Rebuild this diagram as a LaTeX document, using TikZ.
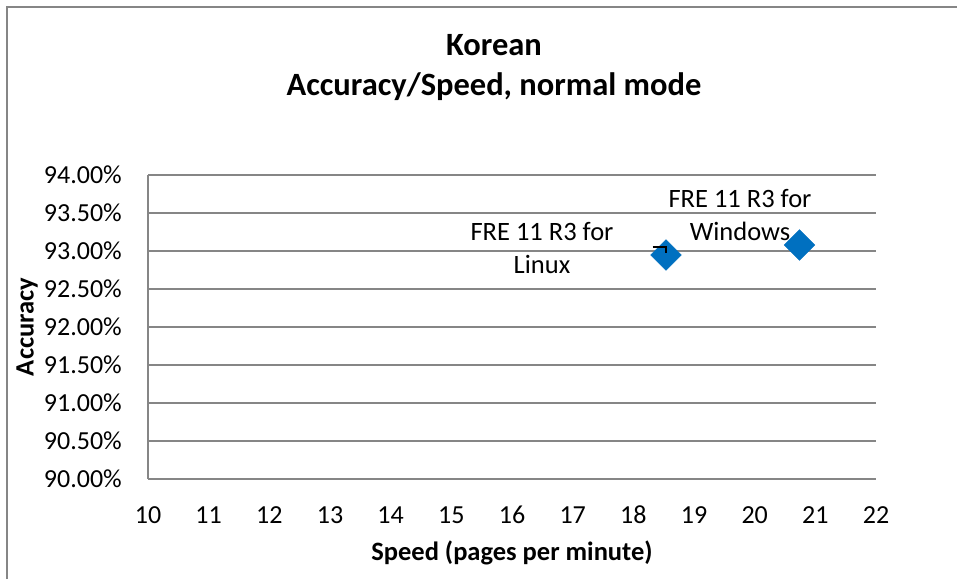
\documentclass[tikz,border=0pt]{standalone}
\usepackage{fontspec}
\setmainfont{Carlito}
\usetikzlibrary{shapes.geometric}
\definecolor{gridgray}{HTML}{868686}
\definecolor{markblue}{HTML}{0070C0}
\tikzset{
  gridline/.style={draw=gridgray, line width=1.5pt},
  frameline/.style={draw=gridgray, line width=2pt},
  ticklbl/.style={font=\fontsize{26}{30}\selectfont, inner sep=0pt},
  datalbl/.style={font=\fontsize{26.5}{33}\selectfont, align=center, inner sep=0pt},
  marker/.style={diamond, fill=markblue, draw=markblue, minimum width=31pt, minimum height=31pt, inner sep=0pt},
  axtitle/.style={font=\bfseries\fontsize{26.5}{30}\selectfont, inner sep=0pt},
}
\begin{document}
\begin{tikzpicture}[x=1pt,y=-1pt]
\useasboundingbox (0,0) rectangle (957,579);
\fill[white] (0,0) rectangle (957,579);
% outer frame (left and top visible)
\draw[frameline] (6.5,579) -- (6.5,6.5) -- (957,6.5);
% title
\node[font=\bfseries\fontsize{32.5}{40}\selectfont, align=center, inner sep=0pt] (title) at (494,68) {Korean\\Accuracy/Speed, normal mode};
% gridlines
\foreach \i in {0,...,8} {
  \draw[gridline] (148,175+38*\i) -- (876,175+38*\i);
}
\draw[gridline] (148,175) -- (148,479);
% y tick labels
\foreach \i/\t in {0/94.00\%,1/93.50\%,2/93.00\%,3/92.50\%,4/92.00\%,5/91.50\%,6/91.00\%,7/90.50\%,8/90.00\%} {
  \node[ticklbl, anchor=east] (yl\i) at (122,175+38*\i) {\t};
}
% x tick labels
\foreach \v [count=\i from 0] in {10,...,22} {
  \node[ticklbl] (xl\i) at (148+60.667*\i,515) {\v};
}
% axis titles
\node[axtitle] (xtitle) at (512,553) {Speed (pages per minute)};
\node[axtitle, rotate=90] (ytitle) at (27,327) {Accuracy};
% data points
\node[marker] (linux) at (666,255) {};
\node[marker] (windows) at (799.5,245) {};
% data labels
\node[datalbl] (linuxlbl) at (542,248.5) {FRE 11 R3 for\\Linux};
\node[datalbl] (winlbl) at (740,215) {FRE 11 R3 for\\Windows};
% leader line
\coordinate (ldA) at (652.7,246.7);
\coordinate (ldB) at (666,246.7);
\coordinate (ldC) at (666,253);
\draw[black, line width=2pt] (ldA) -- (ldB) -- (ldC);
\end{tikzpicture}
\end{document}
